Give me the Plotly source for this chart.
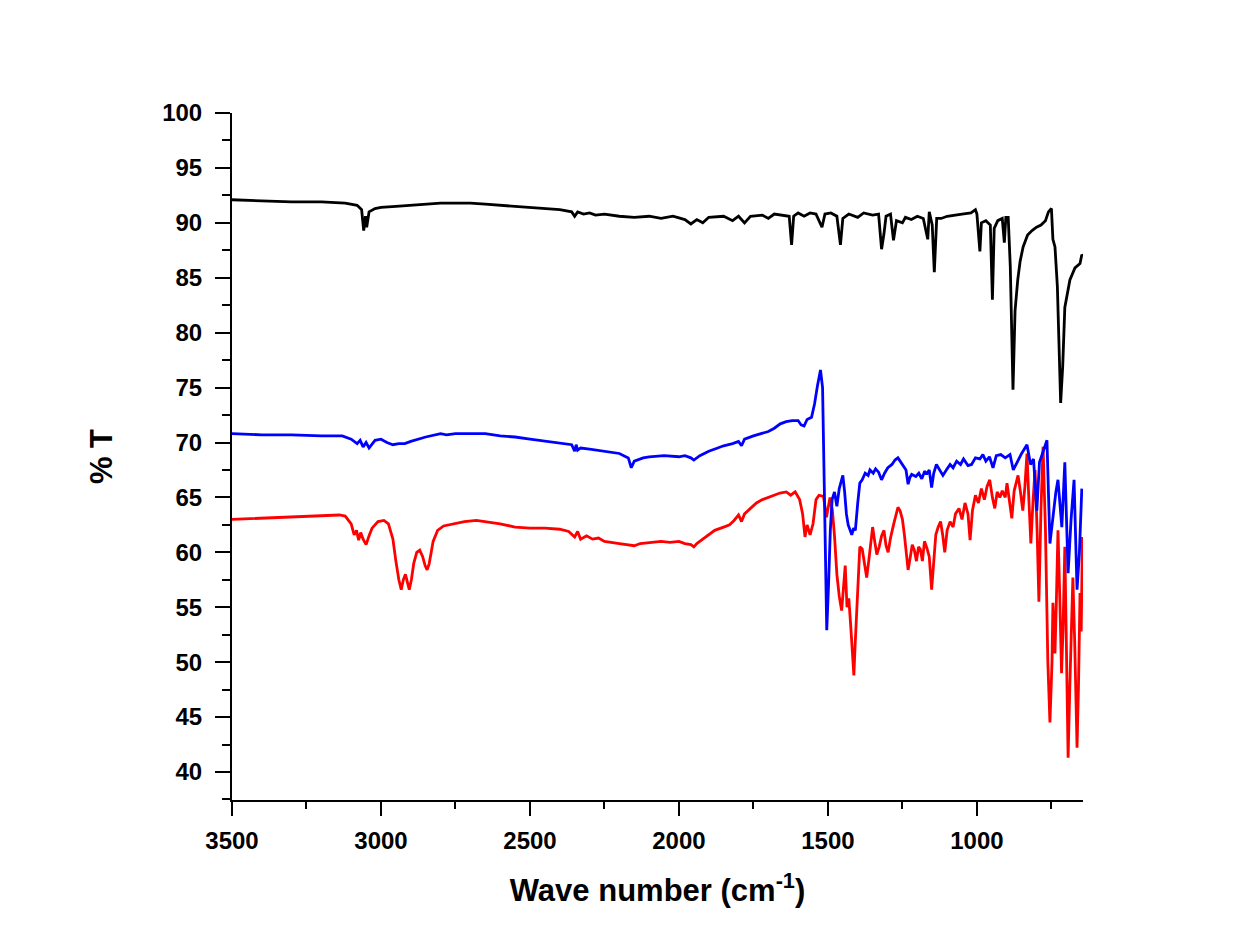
import plotly.graph_objects as go

# ---------------- data (wavenumber cm^-1, %T) ----------------
black_wn = [3500, 3400, 3300, 3200, 3120, 3080, 3065, 3058, 3052, 3048, 3040, 3020, 3000, 2950, 2900, 2850,
            2800, 2750, 2700, 2650, 2600, 2550, 2500, 2450, 2400, 2360, 2350, 2340, 2320, 2300, 2280, 2250,
            2200, 2150, 2100, 2060, 2020, 1980, 1960, 1940, 1920, 1900, 1850, 1820, 1800, 1780, 1760, 1720,
            1700, 1680, 1650, 1630, 1622, 1615, 1600, 1580, 1560, 1540, 1520, 1510, 1490, 1470, 1458, 1450,
            1430, 1400, 1380, 1350, 1330, 1320, 1312, 1305, 1290, 1280, 1270, 1250, 1240, 1220, 1200, 1180,
            1165, 1160, 1150, 1143, 1135, 1120, 1100, 1080, 1050, 1020, 1005, 1000, 990, 985, 970, 955,
            948, 942, 930, 915, 908, 903, 895, 888, 879, 872, 863, 855, 845, 830, 815, 800,
            785, 770, 760, 750, 745, 738, 730, 719, 712, 705, 688, 671, 654, 648, 645]
black_t = [92.1, 92.0, 91.9, 91.9, 91.8, 91.6, 91.2, 89.3, 90.6, 89.6, 91.0, 91.3, 91.4, 91.5, 91.6, 91.7,
           91.8, 91.8, 91.8, 91.7, 91.6, 91.5, 91.4, 91.3, 91.2, 91.0, 90.6, 91.0, 90.8, 90.9, 90.7, 90.8,
           90.6, 90.5, 90.6, 90.4, 90.6, 90.3, 89.9, 90.3, 90.0, 90.5, 90.6, 90.2, 90.6, 90.0, 90.6, 90.7,
           90.4, 90.8, 90.7, 90.6, 88.0, 90.6, 90.9, 90.6, 90.9, 90.8, 89.6, 90.8, 90.9, 90.6, 88.0, 90.4,
           90.8, 90.5, 90.9, 90.7, 90.8, 87.6, 89.0, 90.6, 90.8, 88.4, 90.2, 90.0, 90.5, 90.3, 90.6, 90.4,
           88.5, 91.0, 89.8, 85.5, 90.4, 90.4, 90.6, 90.7, 90.8, 90.9, 91.2, 90.8, 87.4, 90.0, 90.2, 89.8,
           83.0, 89.5, 90.2, 90.4, 88.2, 90.5, 90.5, 86.0, 74.8, 82.0, 84.8, 86.5, 87.8, 88.9, 89.3, 89.6,
           89.8, 90.2, 91.0, 91.3, 88.5, 87.8, 84.2, 73.6, 77.0, 82.3, 84.8, 85.9, 86.3, 87.1, 87.0]

blue_wn = [3500, 3400, 3300, 3200, 3130, 3100, 3080, 3070, 3060, 3050, 3040, 3030, 3020, 3000, 2980, 2960,
           2940, 2920, 2900, 2850, 2800, 2780, 2750, 2700, 2650, 2600, 2550, 2500, 2450, 2400, 2360, 2350,
           2345, 2340, 2330, 2300, 2250, 2200, 2170, 2160, 2150, 2120, 2100, 2050, 2000, 1980, 1960, 1950,
           1930, 1900, 1870, 1850, 1820, 1800, 1790, 1780, 1750, 1720, 1700, 1680, 1660, 1640, 1620, 1600,
           1590, 1580, 1570, 1555, 1545, 1535, 1525, 1518, 1513, 1508, 1504, 1498, 1492, 1486, 1478, 1470,
           1462, 1455, 1450, 1444, 1438, 1432, 1426, 1420, 1414, 1408, 1400, 1393, 1385, 1375, 1365, 1359,
           1348, 1340, 1330, 1320, 1310, 1299, 1285, 1275, 1265, 1255, 1245, 1238, 1231, 1225, 1219, 1205,
           1195, 1185, 1175, 1169, 1160, 1152, 1145, 1136, 1125, 1114, 1100, 1090, 1080, 1068, 1055, 1045,
           1030, 1018, 1005, 990, 980, 970, 958, 946, 935, 920, 905, 889, 878, 860, 850, 832,
           820, 810, 799, 790, 780, 765, 755, 742, 735, 728, 715, 705, 694, 684, 674, 664,
           656, 648]
blue_t = [70.8, 70.7, 70.7, 70.6, 70.6, 70.3, 69.9, 70.2, 69.6, 70.0, 69.5, 69.9, 70.2, 70.3, 70.0, 69.8,
          69.9, 69.9, 70.1, 70.5, 70.8, 70.7, 70.8, 70.8, 70.8, 70.6, 70.5, 70.3, 70.1, 69.9, 69.8, 69.2,
          69.8, 69.3, 69.5, 69.4, 69.2, 69.0, 68.6, 67.7, 68.3, 68.6, 68.7, 68.8, 68.7, 68.8, 68.6, 68.4,
          68.8, 69.2, 69.5, 69.7, 69.9, 70.1, 69.7, 70.3, 70.6, 70.8, 71.0, 71.3, 71.7, 71.9, 72.0, 72.0,
          71.6, 71.5, 72.1, 72.3, 73.5, 75.2, 76.6, 75.0, 68.0, 58.0, 52.9, 57.0, 62.0, 64.8, 65.5, 64.2,
          65.8, 66.5, 67.0, 65.5, 63.5, 62.5, 62.0, 61.6, 62.2, 62.0, 64.5, 66.3, 66.6, 67.2, 67.0, 67.5,
          67.2, 67.6, 67.3, 66.6, 67.2, 67.7, 68.0, 68.4, 68.6, 68.2, 67.8, 67.5, 66.2, 66.8, 67.1, 66.9,
          67.2, 66.7, 67.4, 67.1, 67.5, 65.9, 67.2, 68.0, 67.5, 67.0, 67.6, 68.0, 67.7, 68.3, 68.0, 68.5,
          67.9, 68.0, 68.6, 68.5, 68.9, 68.3, 68.7, 67.7, 68.8, 68.9, 68.6, 68.9, 67.5, 68.5, 69.0, 69.8,
          68.0, 68.5, 63.8, 68.2, 69.0, 70.2, 60.8, 64.0, 65.5, 66.6, 62.3, 68.2, 58.1, 63.0, 66.6, 56.6,
          60.0, 65.8]

red_wn = [3500, 3400, 3300, 3200, 3140, 3120, 3100, 3090, 3082, 3075, 3068, 3060, 3050, 3040, 3030, 3010,
          2990, 2975, 2960, 2950, 2940, 2932, 2925, 2918, 2912, 2905, 2898, 2890, 2880, 2870, 2860, 2852,
          2845, 2838, 2825, 2810, 2790, 2760, 2720, 2680, 2650, 2600, 2550, 2500, 2450, 2400, 2370, 2350,
          2340, 2330, 2310, 2290, 2270, 2250, 2200, 2170, 2150, 2130, 2100, 2060, 2030, 2000, 1980, 1960,
          1950, 1940, 1920, 1900, 1880, 1850, 1830, 1815, 1800, 1790, 1780, 1760, 1740, 1720, 1700, 1680,
          1661, 1640, 1625, 1610, 1595, 1585, 1577, 1570, 1560, 1550, 1540, 1530, 1515, 1505, 1500, 1493,
          1485, 1478, 1470, 1462, 1454, 1448, 1442, 1436, 1430, 1424, 1418, 1413, 1408, 1402, 1396, 1393,
          1385, 1378, 1370, 1364, 1357, 1350, 1343, 1336, 1328, 1320, 1312, 1305, 1298, 1290, 1280, 1272,
          1265, 1258, 1250, 1243, 1236, 1231, 1224, 1217, 1210, 1203, 1196, 1190, 1183, 1176, 1168, 1160,
          1152, 1145, 1138, 1130, 1122, 1115, 1108, 1100, 1090, 1080, 1072, 1060, 1050, 1040, 1030, 1023,
          1015, 1005, 995, 985, 975, 966, 957, 948, 940, 932, 923, 915, 905, 899, 891, 883,
          875, 862, 854, 846, 839, 832, 826, 819, 812, 805, 798, 792, 785, 778, 770, 762,
          755, 748, 745, 741, 738, 733, 728, 722, 716, 711, 705, 700, 694, 688, 683, 678,
          672, 667, 664, 659, 654, 650, 646]
red_t = [63.0, 63.1, 63.2, 63.3, 63.4, 63.3, 62.6, 61.6, 62.0, 61.1, 61.8, 61.2, 60.7, 61.5, 62.2, 62.8,
         62.9, 62.6, 61.2, 59.2, 57.5, 56.6, 57.5, 58.0, 57.2, 56.6, 57.5, 59.0, 60.0, 60.2, 59.6, 58.8,
         58.4, 59.0, 61.0, 62.0, 62.4, 62.6, 62.8, 62.9, 62.8, 62.6, 62.3, 62.2, 62.2, 62.1, 61.9, 61.4,
         61.9, 61.2, 61.5, 61.2, 61.3, 61.0, 60.8, 60.7, 60.6, 60.8, 60.9, 61.0, 60.9, 61.0, 60.8, 60.7,
         60.5, 60.8, 61.2, 61.6, 62.0, 62.3, 62.5, 62.9, 63.4, 62.8, 63.5, 64.0, 64.5, 64.8, 65.0, 65.2,
         65.4, 65.5, 65.2, 65.5, 64.8, 63.5, 61.4, 62.5, 61.6, 62.6, 64.8, 65.2, 65.1, 63.2, 64.0, 65.0,
         63.8, 61.5, 58.0, 56.0, 54.7, 57.0, 58.8, 55.0, 55.8, 53.5, 51.0, 48.8, 52.0, 56.0, 59.8, 60.5,
         60.3, 59.2, 57.7, 59.0, 61.0, 62.3, 61.0, 59.8, 60.5, 61.5, 62.0, 60.6, 60.0, 61.3, 62.5, 63.5,
         64.1, 63.8, 63.0, 61.5, 59.4, 58.4, 59.5, 60.7, 60.2, 59.2, 60.5, 60.3, 59.2, 61.0, 60.4, 59.6,
         56.6, 59.5, 61.6, 62.3, 62.8, 61.6, 60.0, 62.0, 62.8, 62.3, 63.5, 64.0, 63.0, 64.5, 63.5, 61.1,
         63.8, 65.2, 64.5, 65.8, 64.8, 66.0, 66.6, 65.0, 64.0, 65.5, 65.0, 65.6, 65.0, 66.3, 64.5, 63.1,
         65.6, 67.0, 65.5, 63.8, 66.0, 69.0, 65.0, 60.8, 64.5, 67.5, 62.0, 55.5, 64.0, 69.6, 62.0, 50.0,
         44.5, 50.0, 55.4, 52.0, 50.8, 56.0, 62.0, 56.0, 49.0, 53.0, 60.5, 52.0, 41.3, 48.0, 53.0, 57.7,
         52.0, 45.0, 42.2, 48.0, 56.3, 52.8, 61.4]

x_ticks = [3500, 3000, 2500, 2000, 1500, 1000]
y_ticks = [40, 45, 50, 55, 60, 65, 70, 75, 80, 85, 90, 95, 100]

FONT = "Liberation Sans, Arial, sans-serif"

fig = go.Figure()
fig.add_trace(go.Scatter(x=red_wn, y=red_t, mode="lines", line=dict(color="#FF0000", width=2.8), name="red"))
fig.add_trace(go.Scatter(x=blue_wn, y=blue_t, mode="lines", line=dict(color="#0000FF", width=2.8), name="blue"))
fig.add_trace(go.Scatter(x=black_wn, y=black_t, mode="lines", line=dict(color="#000000", width=2.8), name="black"))

fig.update_layout(
    width=1233, height=943,
    margin=dict(l=224, r=158, t=105, b=151),
    paper_bgcolor="white", plot_bgcolor="white",
    showlegend=False,
    font=dict(family=FONT, color="black"),
)
fig.update_xaxes(
    range=[3500, 644], autorange=False,
    tickmode="array", tickvals=x_ticks, ticktext=[str(v) for v in x_ticks],
    ticks="outside", ticklen=14, tickwidth=2, tickcolor="black",
    minor=dict(ticks="outside", ticklen=7, tickwidth=2, tickcolor="black", dtick=250, tick0=3500),
    showline=True, linecolor="black", linewidth=2, mirror=False,
    showgrid=False, zeroline=False,
    tickfont=dict(family=FONT, size=24, weight="bold", color="black"),
    ticklabelstandoff=4,
    title=dict(text="Wave number (cm<sup>-1</sup>)", font=dict(family=FONT, size=31, weight="bold", color="black"),
               standoff=27),
)
fig.update_yaxes(
    range=[37.45, 100], autorange=False,
    tickmode="array", tickvals=y_ticks, ticktext=[str(v) for v in y_ticks],
    ticks="outside", ticklen=15, tickwidth=2, tickcolor="black",
    minor=dict(ticks="outside", ticklen=8, tickwidth=2, tickcolor="black", dtick=2.5, tick0=37.5),
    showline=True, linecolor="black", linewidth=2, mirror=False,
    showgrid=False, zeroline=False,
    tickfont=dict(family=FONT, size=24, weight="bold", color="black"),
    ticklabelstandoff=8,
    title=dict(text="% T", font=dict(family=FONT, size=31, weight="bold", color="black"), standoff=40),
)

fig.write_html("out.html")
